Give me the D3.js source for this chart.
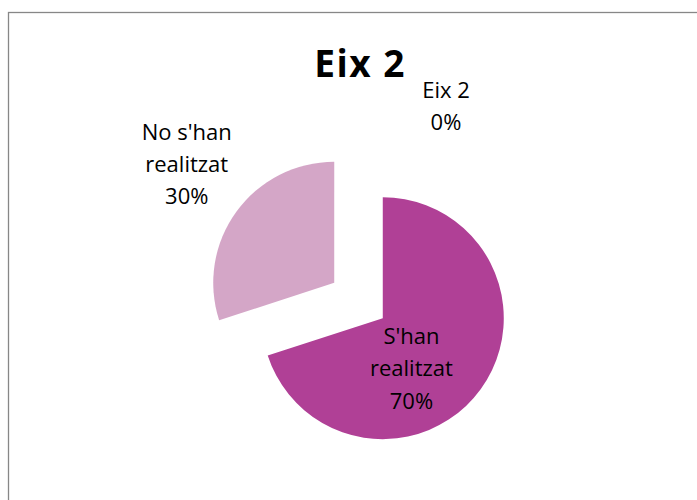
<!DOCTYPE html>
<html>
<head>
<meta charset="utf-8">
<script src="https://cdn.jsdelivr.net/npm/d3@7"></script>
<style>
  html, body { margin: 0; padding: 0; background: #fff; }
  svg { display: block; }
</style>
</head>
<body>
<svg id="chart" width="697" height="500"></svg>
<script>
// ---- data ----
const title = "Eix 2";
const categories = ["Eix 2", "S'han realitzat", "No s'han realitzat"];
const labelLines = [["Eix 2"], ["S'han", "realitzat"], ["No s'han", "realitzat"]];
const values = [0, 70, 30];
const colors = ["#7a2a68", "#B04096", "#D4A6C7"];

// ---- layout ----
const W = 697, H = 500;
const cx = 358.5, cy = 300.5;
const radius = 121;
const explode = 30;
// label placement: polar offsets from the pie centre (angle delta in degrees, distance)
const labelPlace = [{da: 24.5, r: 211}, {da: 17, r: 88}, {da: 2, r: 218}];
const lineH = 32.3;
const font = "'Open Sans', sans-serif";

const svg = d3.select("#chart");

// chart border (clipped at right/bottom like the reference)
svg.append("rect")
  .attr("x", 8.5).attr("y", 12.5)
  .attr("width", W + 10).attr("height", H + 10)
  .attr("fill", "#fff").attr("stroke", "#878787").attr("stroke-width", 1.3);

// title
svg.append("text")
  .attr("x", 360).attr("y", 77)
  .attr("text-anchor", "middle")
  .attr("font-family", font)
  .attr("font-weight", "bold")
  .attr("font-size", 37)
  .attr("letter-spacing", 1.5)
  .attr("fill", "#000")
  .text(title);

const pie = d3.pie().sort(null).value(d => d)(values);
const arc = d3.arc().innerRadius(0).outerRadius(radius);

const total = d3.sum(values);
const g = svg.append("g").attr("transform", `translate(${cx},${cy})`);

pie.forEach((p, i) => {
  const mid = (p.startAngle + p.endAngle) / 2;
  const dx = Math.sin(mid) * explode, dy = -Math.cos(mid) * explode;
  if (p.endAngle > p.startAngle) {
    g.append("path")
      .attr("d", arc(p))
      .attr("transform", `translate(${dx},${dy})`)
      .attr("fill", colors[i]);
  }
  const lp = labelPlace[i];
  const a = mid + lp.da * Math.PI / 180;
  const lx = Math.sin(a) * lp.r, ly = -Math.cos(a) * lp.r;
  const lines = labelLines[i].concat([Math.round(values[i] / total * 100) + "%"]);
  const t = g.append("text")
    .attr("text-anchor", "middle")
    .attr("font-family", font)
    .attr("font-size", 22)
    .attr("fill", "#000");
  lines.forEach((ln, k) => {
    t.append("tspan")
      .attr("x", lx)
      .attr("y", ly + (k - (lines.length - 1) / 2) * lineH + 5.5)
      .text(ln);
  });
});
</script>
</body>
</html>
